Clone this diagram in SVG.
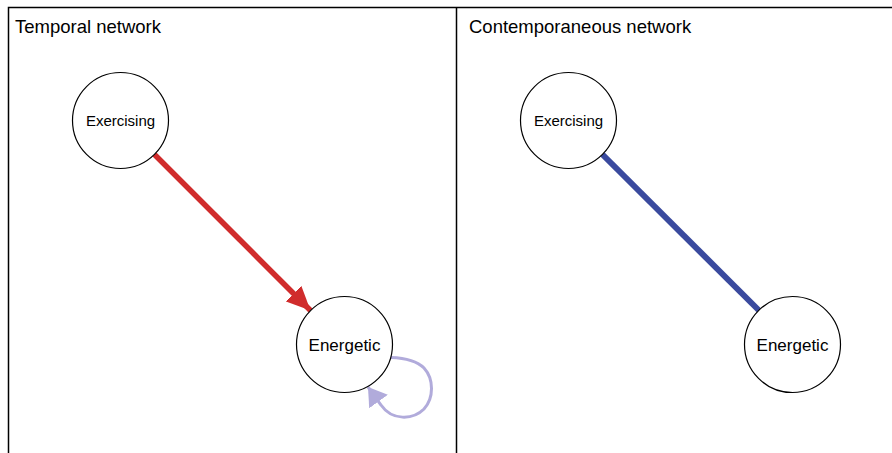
<svg xmlns="http://www.w3.org/2000/svg" width="892" height="453" viewBox="0 0 892 453">
<style>
.frame{fill:none;stroke:#000;stroke-width:1.5}
.title{font-family:"Liberation Sans",Arial,sans-serif;font-size:18.5px;fill:#000}
.node circle{fill:#fff;stroke:#000;stroke-width:1.2}
.node text{font-family:"Liberation Sans",Arial,sans-serif;font-size:15px;fill:#000;text-anchor:middle}
.node text.big{font-size:17px}
</style>
<defs>
<marker id="redArrow" markerUnits="userSpaceOnUse" markerWidth="26" markerHeight="24" refX="24" refY="11" orient="auto" viewBox="0 0 26 22">
<path d="M0,0 L24,11 L0,22 Z" fill="#D02C2C"/>
</marker>
<marker id="loopArrow" markerUnits="userSpaceOnUse" markerWidth="20" markerHeight="24" refX="18" refY="11.5" orient="auto" viewBox="0 0 20 23">
<path d="M0,0 L18,11.5 L0,23 Z" fill="#B1ABDB"/>
</marker>
</defs>
<g id="frame">
<path class="frame" d="M8.5,453 L8.5,7.5 L892,7.5 M456.5,7.5 L456.5,453"/>
<text class="title" x="15" y="33">Temporal network</text>
<text class="title" x="469" y="33">Contemporaneous network</text>
</g>
<g id="connectors">
<line x1="154.5" y1="154.5" x2="310.5" y2="310.5" stroke="#D02C2C" stroke-width="5.5" marker-end="url(#redArrow)"/>
<path d="M391,357.5 C404,358 416,360 424,368 C434,379 434,398 424,409 C413,420 392,421 381,405 L368,387" fill="none" stroke="#B1ABDB" stroke-width="3" marker-end="url(#loopArrow)"/>
<line x1="602.5" y1="154.5" x2="759" y2="310.5" stroke="#3A4A9E" stroke-width="6"/>
</g>
<g id="node-exercising-t" class="node">
<circle cx="120.5" cy="120.5" r="48"/>
<text x="120.5" y="126">Exercising</text>
</g>
<g id="node-energetic-t" class="node">
<circle cx="344.5" cy="344.5" r="48"/>
<text class="big" x="344.5" y="351">Energetic</text>
</g>
<g id="node-exercising-c" class="node">
<circle cx="568.5" cy="120.5" r="48"/>
<text x="568.5" y="126">Exercising</text>
</g>
<g id="node-energetic-c" class="node">
<circle cx="792.5" cy="344.5" r="48"/>
<text class="big" x="792.5" y="351">Energetic</text>
</g>
</svg>
